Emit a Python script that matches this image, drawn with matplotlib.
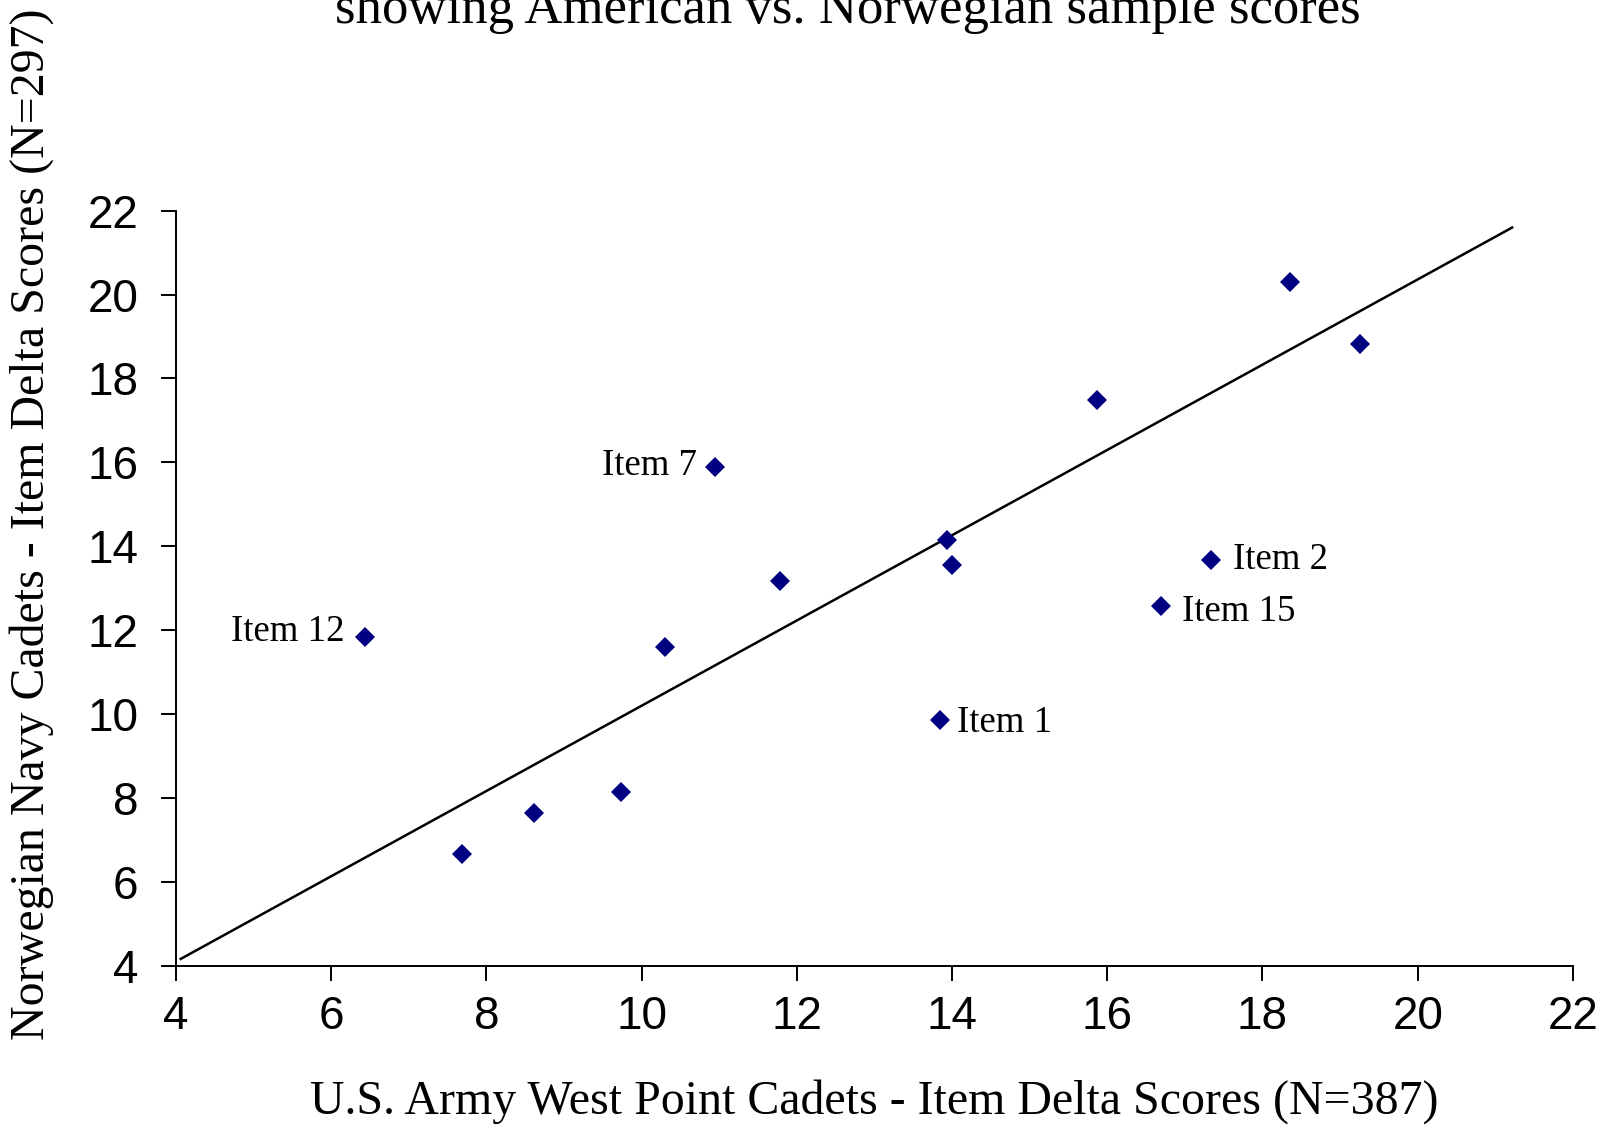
import numpy as np
import matplotlib
matplotlib.use("Agg")
import matplotlib.pyplot as plt

# item delta scores: US (West Point) vs Norwegian Navy
us_scores = [7.69, 8.62, 9.74, 10.30, 6.44, 10.95, 11.78, 13.94, 14.00, 13.85, 15.87, 17.34, 16.69, 18.35, 19.25]
no_scores = [6.67, 7.65, 8.14, 11.59, 11.84, 15.88, 13.16, 14.16, 13.55, 9.85, 17.49, 13.67, 12.57, 20.31, 18.82]
item_labels = ["", "", "", "", "Item 12", "Item 7", "", "", "", "Item 1", "", "Item 2", "Item 15", "", ""]

# reference line as drawn
line_x = [4.05, 21.23]
line_y = [4.15, 21.61]

ticks = [4, 6, 8, 10, 12, 14, 16, 18, 20, 22]

title = "showing American vs. Norwegian sample scores"
xlabel = "U.S. Army West Point Cadets - Item Delta Scores (N=387)"
ylabel = "Norwegian Navy Cadets - Item Delta Scores (N=297)"

SERIF = "Liberation Serif"
SANS = "Liberation Sans"
NAVY = "#000080"

# label offsets in points (dx, dy)
offsets = {"Item 12": (-15, 4), "Item 7": (-13, 1), "Item 1": (12, -2),
           "Item 2": (16, 0), "Item 15": (15, -4)}

fig = plt.figure(figsize=(16.11, 11.28), dpi=100)
ax = fig.add_axes([0.1091, 0.1438, 0.9764 - 0.1091, 0.8133 - 0.1438])

ax.plot(line_x, line_y, color="black", lw=1.8, solid_capstyle="butt")
ax.plot(us_scores, no_scores, ls="none", marker="D", ms=10.5, color=NAVY,
        markeredgewidth=0, clip_on=False, zorder=3)

for x, y, lab in zip(us_scores, no_scores, item_labels):
    if not lab:
        continue
    dx, dy = offsets[lab]
    ax.annotate(lab, (x, y), xytext=(dx, dy), textcoords="offset points",
                ha="right" if dx < 0 else "left", va="center",
                fontsize=26.5, family=SERIF)

ax.set_xlim(4, 22)
ax.set_ylim(4, 22)
ax.set_xticks(ticks)
ax.set_yticks(ticks)
for s in ["top", "right"]:
    ax.spines[s].set_visible(False)
for s in ["left", "bottom"]:
    ax.spines[s].set_linewidth(1.4)
ax.tick_params(axis="both", direction="out", length=11, width=1.4, labelsize=33)
ax.tick_params(axis="x", pad=10)
ax.tick_params(axis="y", pad=16)
for t in ax.get_xticklabels() + ax.get_yticklabels():
    t.set_family(SANS)

ax.set_xlabel(xlabel, fontsize=34.5, family=SERIF)
ax.set_ylabel(ylabel, fontsize=34.5, family=SERIF)
ax.xaxis.label.set_verticalalignment("center")
ax.yaxis.label.set_verticalalignment("center")
ax.xaxis.set_label_coords(0.5, -0.18)
ax.yaxis.set_label_coords(-0.103, 0.585)

# first title line lies above the visible area, as in the source image
fig.text(0.5264, 0.9796, title, ha="center", va="baseline", fontsize=38, family=SERIF)

fig.savefig("out.png", dpi=100)
